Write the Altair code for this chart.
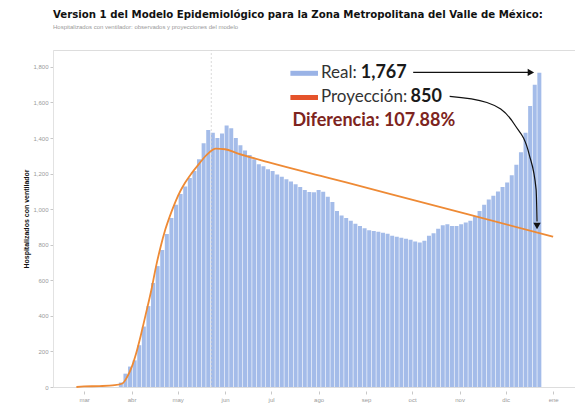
import altair as alt
import pandas as pd

# ---- data ----
BASE = pd.Timestamp("2020-03-01")

real_day = list(range(24, 298, 3))  # days after 1 Mar 2020, every 3 days
real_val = [25, 75, 115, 150, 235, 340, 455, 585, 680, 770, 860, 950, 1025, 1085,
            1127, 1175, 1215, 1280, 1370, 1445, 1430, 1400, 1425, 1470, 1455, 1400,
            1360, 1330, 1305, 1280, 1252, 1242, 1225, 1214, 1195, 1182, 1168, 1155,
            1140, 1125, 1108, 1097, 1095, 1108, 1098, 1070, 1040, 990, 965, 950, 935,
            918, 905, 893, 882, 877, 873, 867, 862, 851, 845, 839, 834, 828, 818, 812,
            822, 850, 865, 890, 910, 915, 905, 905, 915, 925, 935, 960, 990, 1025,
            1055, 1075, 1100, 1125, 1150, 1190, 1250, 1320, 1430, 1580, 1700, 1767]

proj_day = [-5, 0, 10, 20, 25, 28, 31, 34, 37, 40, 44, 47, 50, 53, 57, 60, 63, 66, 70,
            75, 80, 86, 92, 100, 120, 160, 200, 250, 306]
proj_val = [0, 3, 5, 10, 20, 55, 110, 190, 290, 400, 550, 680, 790, 885, 985, 1050,
            1105, 1150, 1200, 1255, 1305, 1340, 1337, 1314, 1265, 1175, 1085, 972, 845]

month_ticks = ["2020-03-01", "2020-04-01", "2020-05-01", "2020-06-01", "2020-07-01",
               "2020-08-01", "2020-09-01", "2020-10-01", "2020-11-01", "2020-12-01",
               "2021-01-01"]
month_names = ["ene", "feb", "mar", "abr", "may", "jun", "jul", "ago", "sep", "oct", "nov", "dic"]
y_ticks = [0, 200, 400, 600, 800, 1000, 1200, 1400, 1600, 1800]

title_text = "Version 1 del Modelo Epidemiológico para la Zona Metropolitana del Valle de México:"
subtitle_text = "Hospitalizados con ventilador: observados y proyecciones del modelo"
y_title = "Hospitalizados con ventilador"


def day(d):
    return BASE + pd.to_timedelta(d, unit="D")


real_df = pd.DataFrame({"fecha": [day(d) for d in real_day], "valor": real_val})
proj_df = pd.DataFrame({"fecha": [day(d) for d in proj_day], "valor": proj_val})

x_scale = alt.Scale(domain=["2020-02-13", "2021-01-12"])
y_scale = alt.Scale(domain=[0, 1895], nice=False)

label_expr = "[" + ",".join("'%s'" % m for m in month_names) + "][month(datum.value)]"

x_axis = alt.Axis(values=month_ticks, labelExpr=label_expr, grid=False,
                  domain=False, tickColor="#c8c8c8", tickSize=3, offset=4,
                  labelColor="#9a9a9a", labelFontSize=6, labelFont="Liberation Sans",
                  labelOverlap=False)
y_axis = alt.Axis(values=y_ticks, format=",d", grid=False, labelOverlap=False,
                  domain=True, domainColor="#e2e2e2", tickColor="#c8c8c8",
                  tickSize=3, labelColor="#9a9a9a", labelFontSize=6,
                  labelFont="Liberation Sans", labelPadding=2,
                  titleFont="Liberation Sans", titleFontSize=7,
                  titleFontWeight="bold", titleColor="#111", titlePadding=3)


def X(field):
    return alt.X(field, type="temporal", scale=x_scale, axis=x_axis, title=None)


def Y(field):
    return alt.Y(field, type="quantitative", scale=y_scale, axis=y_axis, title=y_title)


bars = alt.Chart(real_df).mark_bar(color="#a4bce9", size=4.0).encode(x=X("fecha"), y=Y("valor"))

# faint marker line at the peak
peak_rule = alt.Chart(pd.DataFrame({"fecha": [day(83)], "a": [0], "b": [1895]})).mark_rule(
    color="#d0d0d0", strokeDash=[2, 2], strokeWidth=0.8
).encode(x=X("fecha"), y=Y("a"), y2="b:Q")

proj_line = alt.Chart(proj_df).mark_line(color="#ee8a35", strokeWidth=1.8,
                                         interpolate="monotone").encode(x=X("fecha"), y=Y("valor"))

ANN_FONT = "Lato"

# ---- annotation (in data coordinates) ----
sw_df = pd.DataFrame({"x1": [day(134.6), day(134.6)], "x2": [day(152.6), day(152.6)],
                      "v": [1764, 1628], "c": ["#9ab3e6", "#e5532b"]})
swatches = alt.Chart(sw_df).mark_rule(strokeWidth=5).encode(
    x=X("x1"), x2="x2:T", y=Y("v"), color=alt.Color("c:N", scale=None))

reg_df = pd.DataFrame({"fecha": [day(154.5), day(154.5)], "v": [1764, 1628],
                       "t": ["Real:", "Proyección:"]})
reg_text = alt.Chart(reg_df).mark_text(align="left", baseline="middle", font=ANN_FONT,
                                       fontSize=17, color="#333333").encode(
    x=X("fecha"), y=Y("v"), text="t:N")

bold_df = pd.DataFrame({"fecha": [day(180.5), day(213.0)], "v": [1764, 1628],
                        "t": ["1,767", "850"]})
bold_text = alt.Chart(bold_df).mark_text(align="left", baseline="middle", font=ANN_FONT,
                                         fontSize=18, fontWeight="bold", color="#1a1a1a").encode(
    x=X("fecha"), y=Y("v"), text="t:N")

dif_df = pd.DataFrame({"fecha": [day(135.9)], "v": [1493], "t": ["Diferencia: 107.88%"]})
dif_text = alt.Chart(dif_df).mark_text(align="left", baseline="middle", font=ANN_FONT,
                                       fontSize=18, fontWeight="bold", color="#7d2420").encode(
    x=X("fecha"), y=Y("v"), text="t:N")

arrow1_df = pd.DataFrame({"x1": [day(214.7)], "x2": [day(289.7)], "v": [1769]})
arrow1 = alt.Chart(arrow1_df).mark_rule(color="#111", strokeWidth=1.2).encode(
    x=X("x1"), x2="x2:T", y=Y("v"))

curve_day = [238.5, 262.8, 280.8, 290.4, 294.9, 295.5]
curve_val = [1634, 1600, 1476, 1307, 1110, 930]
curve_df = pd.DataFrame({"fecha": [day(d) for d in curve_day], "v": curve_val})
curve = alt.Chart(curve_df).mark_line(color="#111", strokeWidth=1.2,
                                      interpolate="monotone").encode(x=X("fecha"), y=Y("v"))

head_df = pd.DataFrame({"fecha": [day(291.5), day(295.5)], "v": [1769, 905],
                        "s": ["triangle-right", "triangle-down"]})
heads = alt.Chart(head_df).mark_point(filled=True, color="#111", size=55, opacity=1).encode(
    x=X("fecha"), y=Y("v"), shape=alt.Shape("s:N", scale=None))

chart = alt.layer(
    bars, peak_rule, proj_line, swatches, reg_text, bold_text, dif_text,
    arrow1, curve, heads
).properties(
    width=522, height=337,
    title=alt.TitleParams(text=title_text, subtitle=subtitle_text, anchor="start",
                          frame="group", font="DejaVu Sans", fontSize=10.2,
                          fontWeight="bold", color="#111", subtitleFont="Liberation Sans",
                          subtitleFontSize=6, subtitleColor="#9a9a9a", offset=20,
                          subtitlePadding=3),
    autosize=alt.AutoSizeParams(type="none"),
    padding={"left": 45, "top": 42, "right": 0, "bottom": 25},
).configure_view(stroke=None).configure_axis(labelOverlap=False).configure(background="white")

chart.save("out.html", embed_options={"renderer": "svg", "actions": False})
